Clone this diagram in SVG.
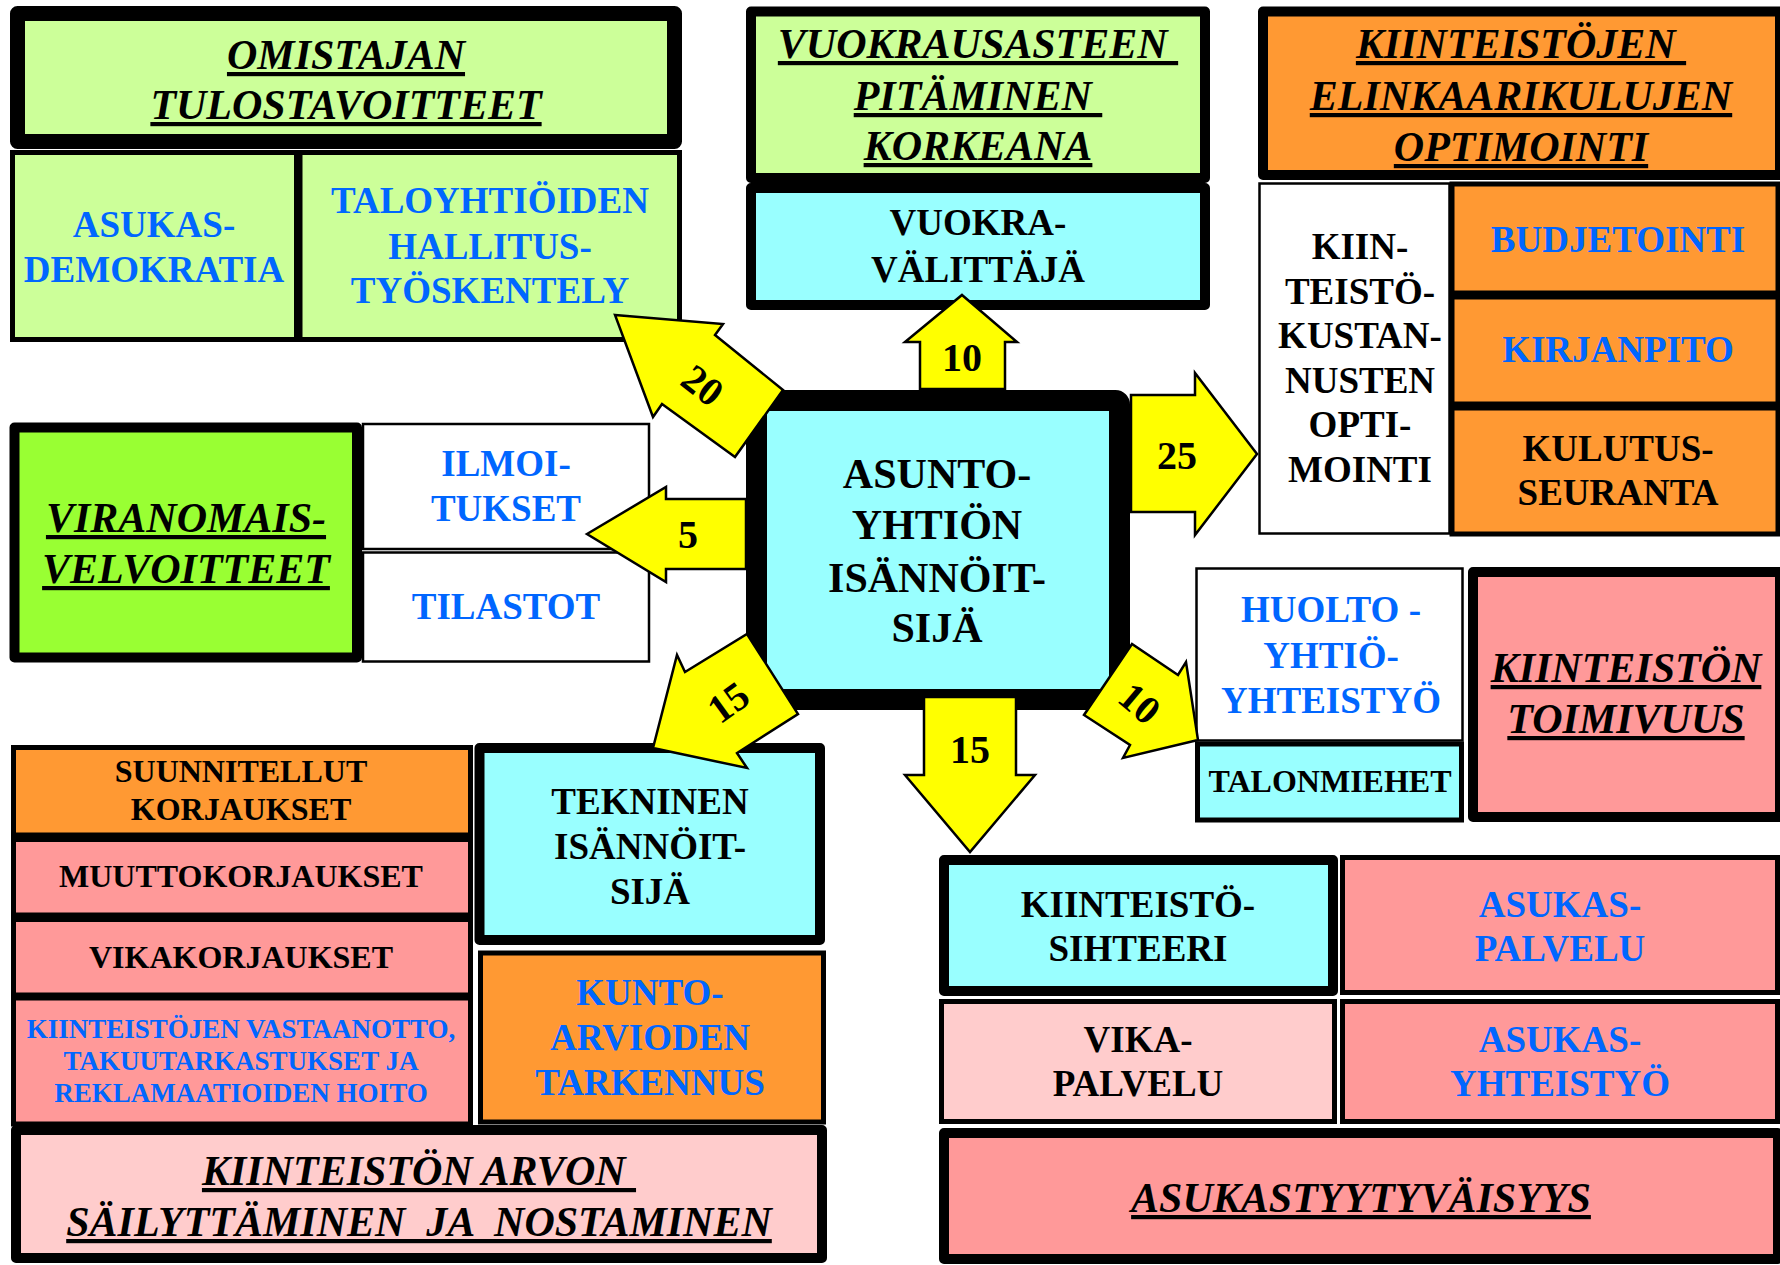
<svg xmlns="http://www.w3.org/2000/svg" width="1780" height="1265" viewBox="0 0 1780 1265">
<style>
text{font-family:"Liberation Serif","Times New Roman",serif;font-weight:bold;text-anchor:middle;fill:#000}
.h{font-size:42px;font-style:italic;text-decoration:underline}
.c{font-size:42px}
.b{font-size:37px}
.s{font-size:32px}
.xs{font-size:27px}
.tm{font-size:32px}
.n{font-size:40px}
.blue{fill:#0066FF}
.thick{stroke:#000;stroke-width:10;stroke-linejoin:round}
.thin{stroke:#000;stroke-width:5}
.hair{stroke:#000;stroke-width:2.5}
.lg{fill:#CCFF99}.cy{fill:#99FFFF}.or{fill:#FF9933}.pk{fill:#FF9999}.lp{fill:#FFCCCC}.gr{fill:#99FF33}.wh{fill:#FFFFFF}
.arrow{fill:#FFFF00;stroke:#000;stroke-width:2.5;stroke-linejoin:miter}
</style>
<rect width="1780" height="1265" fill="#FFFFFF"/>

<g id="omistajan-tulostavoitteet">
<rect class="lg" x="17.5" y="13.5" width="657" height="128" style="stroke:#000;stroke-width:15;stroke-linejoin:round"/>
<text class="h" x="346" y="69">OMISTAJAN</text>
<text class="h" x="346" y="119">TULOSTAVOITTEET</text>
</g>
<g id="asukasdemokratia">
<rect class="lg thin" x="12.5" y="152.5" width="284" height="187"/>
<text class="b blue" x="154" y="237">ASUKAS-</text>
<text class="b blue" x="154" y="282">DEMOKRATIA</text>
</g>
<g id="taloyhtioiden-hallitustyoskentely">
<rect class="lg thin" x="300" y="152.5" width="379.5" height="187"/>
<text class="b blue" x="490" y="213">TALOYHTIÖIDEN</text>
<text class="b blue" x="490" y="259">HALLITUS-</text>
<text class="b blue" x="490" y="303">TYÖSKENTELY</text>
</g>

<g id="vuokrausasteen-pitaminen">
<rect class="lg thick" x="751" y="11.5" width="454" height="166.5"/>
<text class="h" x="978" y="58" xml:space="preserve">VUOKRAUSASTEEN </text>
<text class="h" x="978" y="110" xml:space="preserve">PITÄMINEN </text>
<text class="h" x="978" y="160">KORKEANA</text>
</g>
<g id="vuokravalittaja">
<rect class="cy thick" x="751" y="188" width="454" height="117"/>
<text class="b" x="978" y="235">VUOKRA-</text>
<text class="b" x="978" y="282">VÄLITTÄJÄ</text>
</g>

<g id="elinkaarikulujen-optimointi">
<rect class="or thick" x="1263" y="11.5" width="517" height="163.5"/>
<text class="h" x="1521" y="58" xml:space="preserve">KIINTEISTÖJEN </text>
<text class="h" x="1521" y="110">ELINKAARIKULUJEN</text>
<text class="h" x="1521" y="161">OPTIMOINTI</text>
</g>
<g id="kiinteistokustannusten-optimointi">
<rect class="wh hair" x="1259.5" y="183.5" width="190" height="350"/>
<text class="b" x="1360" y="259">KIIN-</text>
<text class="b" x="1360" y="304">TEISTÖ-</text>
<text class="b" x="1360" y="348">KUSTAN-</text>
<text class="b" x="1360" y="393">NUSTEN</text>
<text class="b" x="1360" y="437">OPTI-</text>
<text class="b" x="1360" y="482">MOINTI</text>
</g>
<g id="budjetointi">
<rect class="or thin" x="1452" y="184" width="326" height="109"/>
<text class="b blue" x="1618" y="252">BUDJETOINTI</text>
</g>
<g id="kirjanpito">
<rect class="or thin" x="1452" y="297" width="326" height="107"/>
<text class="b blue" x="1618" y="362">KIRJANPITO</text>
</g>
<g id="kulutusseuranta">
<rect class="or thin" x="1452" y="408" width="326" height="126"/>
<text class="b" x="1618" y="461">KULUTUS-</text>
<text class="b" x="1618" y="505">SEURANTA</text>
</g>

<g id="viranomaisvelvoitteet">
<rect class="gr thick" x="14.5" y="427.5" width="342.5" height="230"/>
<text class="h" x="186" y="532">VIRANOMAIS-</text>
<text class="h" x="186" y="583">VELVOITTEET</text>
</g>
<g id="ilmoitukset">
<rect class="wh hair" x="363" y="424" width="286" height="125"/>
<text class="b blue" x="506" y="476">ILMOI-</text>
<text class="b blue" x="506" y="521">TUKSET</text>
</g>
<g id="tilastot">
<rect class="wh hair" x="363" y="552.5" width="286" height="109"/>
<text class="b blue" x="506" y="619">TILASTOT</text>
</g>

<g id="huoltoyhtioyhteistyo">
<rect class="wh hair" x="1196.5" y="568.5" width="266" height="172"/>
<text class="b blue" x="1331" y="622">HUOLTO -</text>
<text class="b blue" x="1331" y="668">YHTIÖ-</text>
<text class="b blue" x="1331" y="713">YHTEISTYÖ</text>
</g>
<g id="talonmiehet">
<rect class="cy thin" x="1197.5" y="744" width="264" height="76"/>
<text class="tm" x="1330" y="792">TALONMIEHET</text>
</g>
<g id="kiinteiston-toimivuus">
<rect class="pk thick" x="1473" y="572" width="307" height="245"/>
<text class="h" x="1626" y="682">KIINTEISTÖN</text>
<text class="h" x="1626" y="733">TOIMIVUUS</text>
</g>

<g id="suunnitellut-korjaukset">
<rect class="or thin" x="13.5" y="747.5" width="457" height="87.5"/>
<text class="s" x="241" y="782">SUUNNITELLUT</text>
<text class="s" x="241" y="820">KORJAUKSET</text>
</g>
<g id="muuttokorjaukset">
<rect class="pk thin" x="13.5" y="839.5" width="457" height="75.5"/>
<text class="s" x="241" y="887">MUUTTOKORJAUKSET</text>
</g>
<g id="vikakorjaukset">
<rect class="pk thin" x="13.5" y="919.5" width="457" height="75.5"/>
<text class="s" x="241" y="968">VIKAKORJAUKSET</text>
</g>
<g id="kiinteistojen-vastaanotto">
<rect class="pk thin" x="13.5" y="998" width="457" height="126"/>
<text class="xs blue" x="241" y="1038">KIINTEISTÖJEN VASTAANOTTO,</text>
<text class="xs blue" x="241" y="1070">TAKUUTARKASTUKSET JA</text>
<text class="xs blue" x="241" y="1102">REKLAMAATIOIDEN HOITO</text>
</g>
<g id="tekninen-isannoitsija">
<rect class="cy thick" x="479.5" y="748" width="340.5" height="192"/>
<text class="b" x="650" y="814">TEKNINEN</text>
<text class="b" x="650" y="859">ISÄNNÖIT-</text>
<text class="b" x="650" y="904">SIJÄ</text>
</g>
<g id="kuntoarvioden-tarkennus">
<rect class="or thin" x="480.5" y="953" width="343" height="169"/>
<text class="b blue" x="650" y="1005">KUNTO-</text>
<text class="b blue" x="650" y="1050">ARVIODEN</text>
<text class="b blue" x="650" y="1095">TARKENNUS</text>
</g>
<g id="kiinteiston-arvon-sailyttaminen">
<rect class="lp thick" x="16" y="1130" width="806" height="128"/>
<text class="h" x="419" y="1185" xml:space="preserve">KIINTEISTÖN ARVON </text>
<text class="h" x="419" y="1236" xml:space="preserve">SÄILYTTÄMINEN  JA  NOSTAMINEN</text>
</g>

<g id="kiinteistosihteeri">
<rect class="cy thick" x="944" y="860" width="389" height="131"/>
<text class="b" x="1138" y="917">KIINTEISTÖ-</text>
<text class="b" x="1138" y="961">SIHTEERI</text>
</g>
<g id="asukaspalvelu">
<rect class="pk thin" x="1342.5" y="857.5" width="435" height="135"/>
<text class="b blue" x="1560" y="917">ASUKAS-</text>
<text class="b blue" x="1560" y="961">PALVELU</text>
</g>
<g id="vikapalvelu">
<rect class="lp thin" x="941.5" y="1001.5" width="393" height="120"/>
<text class="b" x="1138" y="1052">VIKA-</text>
<text class="b" x="1138" y="1096">PALVELU</text>
</g>
<g id="asukasyhteistyo">
<rect class="pk thin" x="1342.5" y="1001.5" width="435" height="120"/>
<text class="b blue" x="1560" y="1052">ASUKAS-</text>
<text class="b blue" x="1560" y="1096">YHTEISTYÖ</text>
</g>
<g id="asukastyytyvaisyys">
<rect class="pk thick" x="944" y="1133" width="834" height="126"/>
<text class="h" x="1361" y="1212">ASUKASTYYTYVÄISYYS</text>
</g>

<g id="asunto-yhtion-isannoitsija">
<rect class="cy" x="756.5" y="400.5" width="363" height="299" rx="4" style="stroke:#000;stroke-width:21;stroke-linejoin:round"/>
<text class="c" x="937" y="488">ASUNTO-</text>
<text class="c" x="937" y="539">YHTIÖN</text>
<text class="c" x="937" y="592">ISÄNNÖIT-</text>
<text class="c" x="937" y="642">SIJÄ</text>
</g>

<g id="connectors">
<g id="arrow-20">
<polygon class="arrow" points="615,315 723,324 715,335 783,390 735,457 662,404 653,417"/>
<text class="n" transform="translate(703,385) rotate(38)" x="0" y="14">20</text>
</g>
<g id="arrow-10-up">
<polygon class="arrow" points="962,295 1017,342 1005,342 1005,389 920,389 920,342 905,342"/>
<text class="n" x="962" y="371">10</text>
</g>
<g id="arrow-25">
<polygon class="arrow" points="1131,395 1195,395 1195,373 1257,454 1195,535 1195,512 1131,512"/>
<text class="n" x="1177" y="469">25</text>
</g>
<g id="arrow-5">
<polygon class="arrow" points="587,534 666,487 666,499 746,499 746,569 666,569 666,582"/>
<text class="n" x="688" y="548">5</text>
</g>
<g id="arrow-15-left">
<polygon class="arrow" points="653,748 677,655 685,672 747,634 798,714 737,753 747,768"/>
<text class="n" transform="translate(728,702) rotate(-36)" x="0" y="14">15</text>
</g>
<g id="arrow-15-down">
<polygon class="arrow" points="924,697 1016,697 1016,775 1035,775 970,852 905,775 924,775"/>
<text class="n" x="970" y="763">15</text>
</g>
<g id="arrow-10-right">
<polygon class="arrow" points="1198,740 1123,758 1130,745 1084,715 1132,644 1178,675 1186,662"/>
<text class="n" transform="translate(1140,703) rotate(40)" x="0" y="14">10</text>
</g>
</g>
</svg>
